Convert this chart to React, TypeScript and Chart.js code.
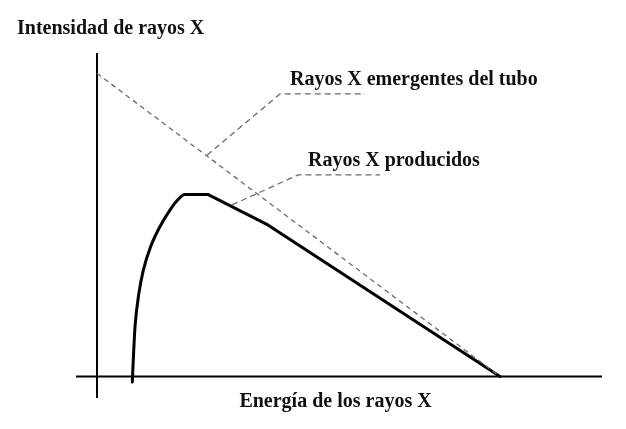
import React, { useEffect, useRef } from "react";
import { Chart, registerables } from "chart.js";

Chart.register(...registerables);

// Data (normalized units: energy 0–100, intensity 0–100)
const emergentX = [0, 100];
const emergentY = [100, 0];

const producedCurveX = [8.76, 9.0, 9.43, 10.4, 11.5, 13.3, 15.6, 18.1, 20.0, 21.8, 27.6];
const producedCurveY = [-1.8, 5.4, 16.4, 27.5, 35.1, 42.8, 49.4, 54.9, 58.2, 60.0, 60.0];

const producedLineX = [27.6, 42.4, 100];
const producedLineY = [60, 50, 0];

const leaderEmergX = [27.3, 45.4, 66.5];
const leaderEmergY = [73.0, 93.2, 93.2];

const leaderProdX = [33.5, 49.9, 70.2];
const leaderProdY = [56.6, 66.5, 66.5];

const yTitle = "Intensidad de rayos X";
const xTitle = "Energía de los rayos X";
const emergentLabel = "Rayos X emergentes del tubo";
const producedLabel = "Rayos X producidos";

const X_MIN = -5.21;
const X_MAX = 125.3;
const Y_MIN = -7.09;
const Y_MAX = 106.7;

const zip = (xs: number[], ys: number[]) => xs.map((x, i) => ({ x, y: ys[i] }));

const FONT = 'bold 20px "Liberation Serif", "Times New Roman", serif';

const annotationPlugin = {
  id: "schematic",
  beforeDatasetsDraw(chart: any) {
    const { ctx, chartArea, scales } = chart;
    const x0 = scales.x.getPixelForValue(0);
    const y0 = scales.y.getPixelForValue(0);
    ctx.save();
    ctx.strokeStyle = "#000";
    ctx.lineWidth = 2;
    ctx.setLineDash([]);
    ctx.beginPath();
    ctx.moveTo(x0, chartArea.top);
    ctx.lineTo(x0, chartArea.bottom);
    ctx.moveTo(chartArea.left, y0);
    ctx.lineTo(chartArea.right, y0);
    ctx.stroke();
    ctx.restore();
  },
  afterDraw(chart: any) {
    const { ctx } = chart;
    ctx.save();
    ctx.fillStyle = "#111";
    ctx.font = FONT;
    ctx.textBaseline = "alphabetic";
    ctx.textAlign = "left";
    ctx.fillText(yTitle, 17, 34);
    ctx.fillText(emergentLabel, 290, 85);
    ctx.fillText(producedLabel, 308, 166);
    ctx.textAlign = "center";
    ctx.fillText(xTitle, 335.5, 407);
    ctx.restore();
  },
};

export default function App() {
  const ref = useRef<HTMLCanvasElement | null>(null);

  useEffect(() => {
    document.body.style.margin = "0";
    if (!ref.current) return;
    const dashedGray = "#6a6a6a";
    const chart = new Chart(ref.current, {
      type: "scatter",
      data: {
        datasets: [
          {
            label: emergentLabel,
            data: zip(emergentX, emergentY),
            showLine: true,
            borderColor: dashedGray,
            borderWidth: 1.3,
            borderDash: [5, 4],
            pointRadius: 0,
          },
          {
            label: "leader emergentes",
            data: zip(leaderEmergX, leaderEmergY),
            showLine: true,
            borderColor: dashedGray,
            borderWidth: 1.3,
            borderDash: [6, 4],
            pointRadius: 0,
          },
          {
            label: "leader producidos",
            data: zip(leaderProdX, leaderProdY),
            showLine: true,
            borderColor: dashedGray,
            borderWidth: 1.3,
            borderDash: [6, 4],
            pointRadius: 0,
          },
          {
            label: producedLabel,
            data: zip(producedCurveX, producedCurveY),
            showLine: true,
            borderColor: "#000",
            borderWidth: 3,
            cubicInterpolationMode: "monotone",
            borderCapStyle: "round",
            borderJoinStyle: "round",
            pointRadius: 0,
          },
          {
            label: producedLabel + " (lineal)",
            data: zip(producedLineX, producedLineY),
            showLine: true,
            borderColor: "#000",
            borderWidth: 3,
            tension: 0,
            borderCapStyle: "round",
            borderJoinStyle: "round",
            pointRadius: 0,
          },
        ] as any,
      },
      options: {
        animation: false,
        responsive: false,
        layout: { padding: { left: 76, right: 24, top: 53, bottom: 31 } },
        scales: {
          x: { type: "linear", min: X_MIN, max: X_MAX, display: false },
          y: { type: "linear", min: Y_MIN, max: Y_MAX, display: false },
        },
        plugins: {
          legend: { display: false },
          tooltip: { enabled: false },
          title: { display: false },
        },
      },
      plugins: [annotationPlugin],
    });
    return () => chart.destroy();
  }, []);

  return (
    <div style={{ width: 626, height: 429, background: "#fff" }}>
      <canvas ref={ref} width={626} height={429} />
    </div>
  );
}
